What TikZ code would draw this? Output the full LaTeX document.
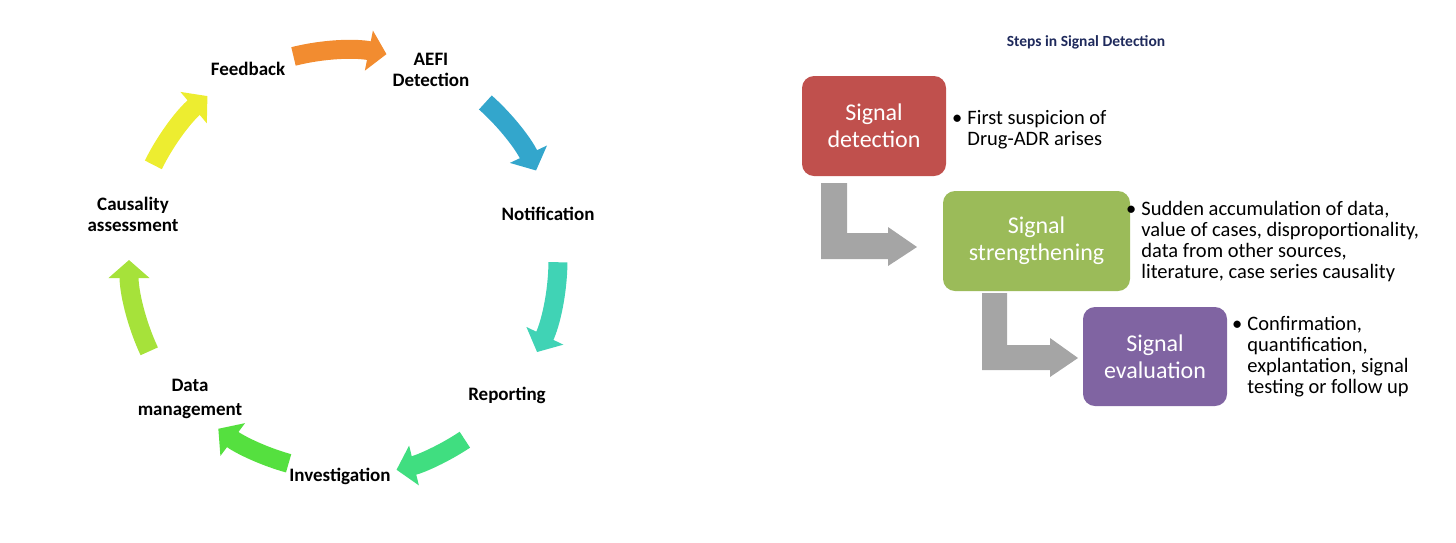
\documentclass[tikz,border=0pt]{standalone}
\usepackage{fontspec}
\setmainfont{Carlito}
\usetikzlibrary{arrows.meta}
\definecolor{sdred}{HTML}{C0504D}
\definecolor{ssgreen}{HTML}{9BBB59}
\definecolor{sepurple}{HTML}{8064A2}
\definecolor{arrgray}{HTML}{A5A5A5}
\definecolor{navy}{HTML}{1F2A5C}
\definecolor{cOrange}{HTML}{F28C30}
\definecolor{cBlue}{HTML}{33A6CC}
\definecolor{cTeal}{HTML}{40D3B5}
\definecolor{cGreenA}{HTML}{40DE80}
\definecolor{cGreenB}{HTML}{55E03F}
\definecolor{cLime}{HTML}{A6E23A}
\definecolor{cYellow}{HTML}{EDED30}
\begin{document}
\begin{tikzpicture}[x=1pt,y=-1pt,
  lbl/.style={font=\bfseries\fontsize{19}{21}\selectfont, align=center, inner sep=0pt},
  cyc/.style={line width=19pt, -{Triangle[length=18pt,width=40pt]}},
  box/.style={rounded corners=12pt, text=white, font=\fontsize{24}{27}\selectfont, align=center, inner sep=0pt},
  btext/.style={anchor=base west, inner sep=0pt, font=\fontsize{20.5}{21}\selectfont},
  bent/.style={fill=arrgray, draw=none}]
\path[use as bounding box] (0,0) rectangle (1456,542);

% ---------- left: AEFI cycle ----------
\coordinate (c) at (345,260);
\node[lbl] (fb) at (248,69) {Feedback};
\node[lbl] (aefi) at (431,70) {AEFI\\Detection};
\node[lbl] (noti) at (548,214) {Notification};
\node[lbl] (rep) at (507,395) {Reporting};
\node[lbl] (inv) at (340,476) {Investigation};
\node[lbl, font=\bfseries\fontsize{19}{24}\selectfont] (dm) at (190,399) {Data\\management};
\node[lbl] (ca) at (133,214) {Causality\\assessment};

\draw[cyc, cOrange] (c) ++(-104.2:210) arc[start angle=-104.2, end angle=-78.6, radius=210];
\draw[cyc, cBlue]   (c) ++(-48.3:211) arc[start angle=-48.3, end angle=-25.1, radius=211];
\draw[cyc, cTeal]   (c) ++(0.6:213) arc[start angle=0.6, end angle=25.6, radius=213];
\draw[cyc, cGreenA] (c) ++(56.3:216) arc[start angle=56.3, end angle=76.2, radius=216];
\draw[cyc, cGreenB] (c) ++(105.5:211) arc[start angle=105.5, end angle=126.9, radius=211];
\draw[cyc, cLime]   (c) ++(155:216) arc[start angle=155, end angle=180, radius=216];
\draw[cyc, cYellow] (c) ++(206.4:214) arc[start angle=206.4, end angle=230, radius=214];

% ---------- right: signal detection ----------
\node[font=\bfseries\fontsize{15.5}{18}\selectfont, text=navy, inner sep=0pt] (title) at (1086,42) {Steps in Signal Detection};

\node[box, fill=sdred, minimum width=144pt, minimum height=100pt] (sd) at (874,126) {Signal\\detection};
\node[box, fill=ssgreen, minimum width=187pt, minimum height=100pt] (ss) at (1036.5,241) {Signal\\strengthening};
\node[box, fill=sepurple, minimum width=144pt, minimum height=99pt] (se) at (1155,356.5) {Signal\\evaluation};

\fill[bent] (821,183) -- (847,183) -- (847,233) -- (888,233) -- (888,227) -- (917,247) -- (888,266) -- (888,259) -- (821,259) -- cycle;
\fill[bent] (982,293) -- (1007,293) -- (1007,345) -- (1050,345) -- (1050,338) -- (1078,358) -- (1050,377) -- (1050,370) -- (982,370) -- cycle;

\node[btext] (t1) at (952,124) {\begin{tabular}[t]{@{}l@{\hspace{5pt}}l@{}}•&First suspicion of\\&Drug-ADR arises\end{tabular}};
\node[btext] (t2) at (1126,215) {\begin{tabular}[t]{@{}l@{\hspace{5pt}}l@{}}•&Sudden accumulation of data,\\&value of cases, disproportionality,\\&data from other sources,\\&literature, case series causality\end{tabular}};
\node[btext] (t3) at (1232,330) {\begin{tabular}[t]{@{}l@{\hspace{5pt}}l@{}}•&Confirmation,\\&quantification,\\&explantation, signal\\&testing or follow up\end{tabular}};
\end{tikzpicture}
\end{document}
